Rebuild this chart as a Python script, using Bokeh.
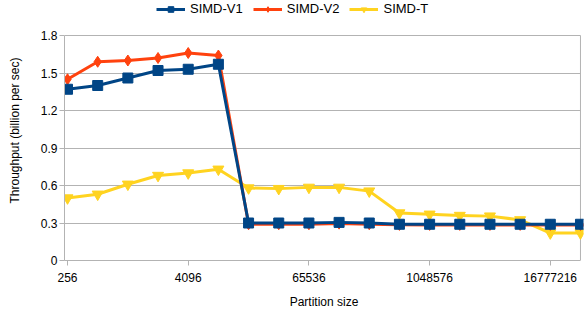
from bokeh.plotting import figure
from bokeh.models import (Range1d, FixedTicker, NumeralTickFormatter, Legend,
                          LegendItem, ColumnDataSource)
from bokeh.embed import file_html
from bokeh.resources import INLINE

# ---- data ----
sizes = [256, 512, 1024, 2048, 4096, 8192, 16384, 32768, 65536, 131072,
         262144, 524288, 1048576, 2097152, 4194304, 8388608, 16777216, 33554432]
simd_v1 = [1.37, 1.40, 1.46, 1.52, 1.53, 1.57, 0.30, 0.30, 0.30, 0.305,
           0.30, 0.29, 0.29, 0.29, 0.29, 0.29, 0.29, 0.29]
simd_v2 = [1.45, 1.59, 1.60, 1.62, 1.66, 1.64, 0.29, 0.29, 0.29, 0.295,
           0.29, 0.285, 0.285, 0.285, 0.285, 0.285, 0.285, 0.285]
simd_t = [0.50, 0.53, 0.61, 0.68, 0.70, 0.73, 0.58, 0.575, 0.585, 0.585,
          0.555, 0.38, 0.37, 0.36, 0.355, 0.325, 0.22, 0.22]
tick_sizes = [256, 4096, 65536, 1048576, 16777216]
y_ticks = [0, 0.3, 0.6, 0.9, 1.2, 1.5, 1.8]
series_names = ["SIMD-V1", "SIMD-V2", "SIMD-T"]

xs = list(range(len(sizes)))
tick_pos = [sizes.index(s) for s in tick_sizes]
x_first, x_last = xs[0], xs[-1]
y_top = max(y_ticks)

FONT = "Liberation Sans"
GRID = "#b3b3b3"
C_V1, C_V2, C_T = "#004586", "#ff420e", "#ffd320"

src = ColumnDataSource(dict(x=xs, v1=simd_v1, v2=simd_v2, t=simd_t))

# frame reaches slightly past the end points (so the end markers show) and
# above the top gridline (room for the legend)
X_PAD = 0.1
Y_HEADROOM = 0.28
x_start = x_first - X_PAD
p = figure(width=584, height=314, output_backend="svg", toolbar_location=None,
           x_range=Range1d(x_start, x_last + X_PAD),
           y_range=Range1d(0, y_top + Y_HEADROOM),
           min_border_left=64, min_border_right=1, min_border_top=0,
           min_border_bottom=54)
p.background_fill_color = "white"
p.border_fill_color = "white"
p.outline_line_color = None

# axes
p.xaxis.ticker = FixedTicker(ticks=tick_pos)
p.xaxis.major_label_overrides = {i: str(s) for i, s in zip(tick_pos, tick_sizes)}
p.xaxis.bounds = (x_start, x_last)
p.yaxis.ticker = FixedTicker(ticks=y_ticks)
p.yaxis.formatter = NumeralTickFormatter(format="0.[0]")
p.yaxis.bounds = (0, y_top)
for ax in (p.xaxis, p.yaxis):
    ax.axis_line_color = GRID
    ax.major_tick_line_color = GRID
    ax.major_tick_in = 0
    ax.major_tick_out = 5
    ax.minor_tick_line_color = None
    ax.major_label_text_font = FONT
    ax.major_label_text_font_size = "12px"
    ax.major_label_text_color = "#000000"
    ax.axis_label_text_font = FONT
    ax.axis_label_text_font_size = "12px"
    ax.axis_label_text_font_style = "normal"
    ax.axis_label_text_color = "#000000"
p.xaxis.axis_label = "Partition size"
p.yaxis.axis_label = "Throughput (billion per sec)"
p.xaxis.major_label_standoff = 7
p.xaxis.axis_label_standoff = 10
p.yaxis.major_label_standoff = 2
p.yaxis.axis_label_standoff = 16

p.xgrid.visible = False
p.ygrid.grid_line_color = GRID
p.ygrid.grid_line_width = 1
p.ygrid.cross_bounds = (x_start, x_last)

# right border of the plot wall
p.segment(x0=[x_last], y0=[0], x1=[x_last], y1=[y_top], line_color=GRID, line_width=1)

# series (drawn in reverse so V1 is on top)
lt = p.line("x", "t", source=src, line_color=C_T, line_width=3, line_join="round")
st = p.scatter("x", "t", source=src, marker="inverted_triangle", size=11,
               fill_color=C_T, line_color=C_T)
l2 = p.line("x", "v2", source=src, line_color=C_V2, line_width=3, line_join="round")
s2 = p.scatter("x", "v2", source=src, marker="diamond", size=11,
               fill_color=C_V2, line_color=C_V2)
l1 = p.line("x", "v1", source=src, line_color=C_V1, line_width=3, line_join="round")
s1 = p.scatter("x", "v1", source=src, marker="square", size=10,
               fill_color=C_V1, line_color=C_V1)

legend = Legend(items=[LegendItem(label=series_names[0], renderers=[l1, s1]),
                       LegendItem(label=series_names[1], renderers=[l2, s2]),
                       LegendItem(label=series_names[2], renderers=[lt, st])],
                orientation="horizontal", location=(92, 244),
                glyph_width=29, glyph_height=14, label_height=14,
                label_standoff=5, spacing=10, padding=0, margin=0,
                label_text_font=FONT, label_text_font_size="13px",
                label_text_color="#000000",
                border_line_color=None, background_fill_alpha=0)
p.add_layout(legend, "center")

open("out.html", "w").write(file_html(p, INLINE))
